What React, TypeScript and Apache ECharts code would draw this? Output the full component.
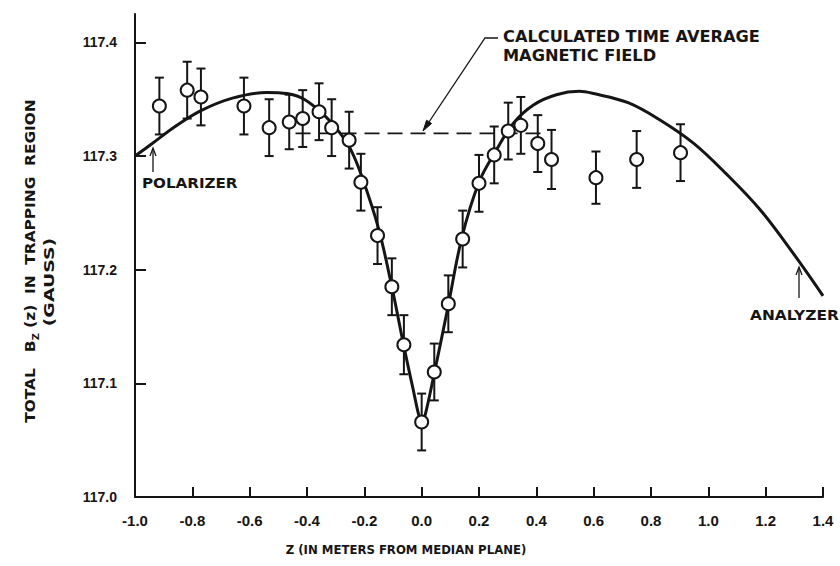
import React, { useEffect, useRef } from "react";
import * as echarts from "echarts";

// Axis ticks
const zTicks = [-1.0, -0.8, -0.6, -0.4, -0.2, 0.0, 0.2, 0.4, 0.6, 0.8, 1.0, 1.2, 1.4];
const bTicks = [117.0, 117.1, 117.2, 117.3, 117.4];

// Calculated field along the axis (solid curve)
const curveZ = [
  -1.0, -0.94, -0.86, -0.77, -0.66, -0.54, -0.47, -0.41, -0.34, -0.29, -0.25, -0.21,
  -0.15, -0.1, -0.06, -0.03, -0.01, 0.0, 0.01, 0.04, 0.09, 0.14, 0.2, 0.26, 0.32, 0.39,
  0.47, 0.55, 0.6, 0.72, 0.83, 0.95, 1.06, 1.18, 1.3, 1.4,
];
const curveB = [
  117.3, 117.311, 117.326, 117.34, 117.351, 117.356, 117.355, 117.35, 117.336, 117.322,
  117.307, 117.283, 117.236, 117.18, 117.13, 117.095, 117.072, 117.066, 117.07, 117.104,
  117.165, 117.228, 117.277, 117.305, 117.329, 117.345, 117.354, 117.357, 117.355,
  117.347, 117.332, 117.311, 117.285, 117.253, 117.213, 117.177,
];

// Measured field with uncertainties
const pointZ = [
  -0.915, -0.818, -0.77, -0.62, -0.532, -0.462, -0.415, -0.358, -0.314, -0.253, -0.212,
  -0.154, -0.104, -0.062, 0.0, 0.044, 0.093, 0.143, 0.2, 0.253, 0.302, 0.346, 0.405,
  0.453, 0.608, 0.75, 0.903,
];
const pointB = [
  117.344, 117.358, 117.352, 117.344, 117.325, 117.33, 117.333, 117.339, 117.325, 117.314,
  117.277, 117.23, 117.185, 117.134, 117.066, 117.11, 117.17, 117.227, 117.276, 117.301,
  117.322, 117.327, 117.311, 117.297, 117.281, 117.297, 117.303,
];
const pointErr = [
  0.025, 0.025, 0.025, 0.025, 0.025, 0.024, 0.025, 0.025, 0.025, 0.025, 0.025, 0.025,
  0.025, 0.026, 0.025, 0.025, 0.025, 0.025, 0.025, 0.025, 0.025, 0.025, 0.025, 0.026,
  0.023, 0.025, 0.025,
];

// Time-averaged field (dashed level)
const avgZ = [-0.44, 0.44];
const avgB = [117.32, 117.32];

const INK = "#151515";
const LETTER = '"DejaVu Sans", "Liberation Sans", sans-serif';
const DIGIT = '"Liberation Sans", Arial, sans-serif';

function arrowHead(tip: number[], from: number[], len: number, half: number) {
  const dx = tip[0] - from[0];
  const dy = tip[1] - from[1];
  const d = Math.hypot(dx, dy);
  const ux = dx / d;
  const uy = dy / d;
  const bx = tip[0] - ux * len;
  const by = tip[1] - uy * len;
  return [
    [tip[0], tip[1]],
    [bx - uy * half, by + ux * half],
    [bx + uy * half, by - ux * half],
  ];
}

// Stencil-style lettering, stretched horizontally by `sx`
function label(text: string, x: number, y: number, size: number, sx: number, align = "left") {
  return {
    type: "text",
    x,
    y,
    scaleX: sx,
    silent: true,
    style: {
      text,
      fill: INK,
      font: `bold ${size}px ${LETTER}`,
      textAlign: align,
      textVerticalAlign: "middle",
    },
  };
}

export default function App() {
  const ref = useRef<HTMLDivElement>(null);

  useEffect(() => {
    if (!ref.current) return;
    const chart = echarts.init(ref.current, undefined, { renderer: "svg" });

    const curve = curveZ.map((z, i) => [z, curveB[i]]);
    const points = pointZ.map((z, i) => [z, pointB[i]]);
    const bars = pointZ.map((z, i) => [z, pointB[i], pointErr[i]]);
    const avg = avgZ.map((z, i) => [z, avgB[i]]);

    const calcTip = [423, 131];
    const calcKnee = [485, 38];

    chart.setOption({
      animation: false,
      backgroundColor: "#ffffff",
      grid: { left: 135, right: 17, top: 14, bottom: 69 },
      xAxis: {
        type: "value",
        min: -1.0,
        max: 1.4,
        axisLine: { show: true, onZero: false, lineStyle: { color: INK, width: 2 } },
        axisTick: {
          show: true,
          inside: true,
          length: 10,
          customValues: zTicks,
          lineStyle: { color: INK, width: 2 },
        },
        axisLabel: {
          customValues: zTicks,
          margin: 16,
          color: INK,
          fontFamily: DIGIT,
          fontWeight: "bold",
          fontSize: 15,
          formatter: (v: number) => v.toFixed(1),
        },
        splitLine: { show: false },
      },
      yAxis: {
        type: "value",
        min: 117.0,
        max: 117.425,
        axisLine: { show: true, onZero: false, lineStyle: { color: INK, width: 2 } },
        axisTick: {
          show: true,
          inside: true,
          length: 11,
          customValues: bTicks,
          lineStyle: { color: INK, width: 2 },
        },
        axisLabel: {
          customValues: bTicks,
          margin: 18,
          color: INK,
          fontFamily: DIGIT,
          fontWeight: "bold",
          fontSize: 14,
          formatter: (v: number) => v.toFixed(1),
        },
        splitLine: { show: false },
      },
      series: [
        {
          type: "line",
          data: curve,
          smooth: 0.35,
          showSymbol: false,
          z: 2,
          lineStyle: { color: INK, width: 3 },
        },
        {
          type: "line",
          data: avg,
          showSymbol: false,
          z: 1,
          lineStyle: { color: INK, width: 1.6, type: [15, 8] },
        },
        {
          type: "custom",
          data: bars,
          z: 3,
          renderItem: (params: any, api: any) => {
            const z = api.value(0);
            const b = api.value(1);
            const e = api.value(2);
            const top = api.coord([z, b + e]);
            const bot = api.coord([z, b - e]);
            const cap = 4.5;
            const st = { stroke: INK, lineWidth: 2 };
            return {
              type: "group",
              children: [
                { type: "line", shape: { x1: top[0], y1: top[1], x2: bot[0], y2: bot[1] }, style: st },
                { type: "line", shape: { x1: top[0] - cap, y1: top[1], x2: top[0] + cap, y2: top[1] }, style: st },
                { type: "line", shape: { x1: bot[0] - cap, y1: bot[1], x2: bot[0] + cap, y2: bot[1] }, style: st },
              ],
            };
          },
        },
        {
          type: "scatter",
          data: points,
          symbol: "circle",
          symbolSize: 13,
          z: 4,
          itemStyle: { color: "#ffffff", borderColor: INK, borderWidth: 2, opacity: 1 },
        },
      ],
      graphic: [
        // axis titles
        {
          type: "text",
          x: 30,
          y: 261,
          rotation: Math.PI / 2,
          scaleX: 1.1,
          silent: true,
          style: {
            text: "TOTAL   B{sub|Z} (z)  IN  TRAPPING  REGION",
            fill: INK,
            font: `bold 14px ${LETTER}`,
            textAlign: "center",
            textVerticalAlign: "middle",
            rich: {
              sub: {
                fontSize: 9,
                fontWeight: "bold",
                fontFamily: LETTER,
                fill: INK,
                padding: [12, 0, 0, 0],
              },
            },
          },
        },
        {
          type: "text",
          x: 49,
          y: 282,
          rotation: Math.PI / 2,
          scaleX: 1.35,
          silent: true,
          style: {
            text: "(GAUSS)",
            fill: INK,
            font: `bold 14px ${LETTER}`,
            textAlign: "center",
            textVerticalAlign: "middle",
          },
        },
        label("Z (IN METERS FROM MEDIAN PLANE)", 406, 550, 13, 0.9, "center"),
        // time-average annotation
        label("CALCULATED TIME AVERAGE", 503, 37, 15, 1.08),
        label("MAGNETIC FIELD", 503, 56, 15, 1.08),
        {
          type: "polyline",
          silent: true,
          shape: { points: [[498, 38], calcKnee, [calcTip[0] + 4, calcTip[1] - 6]] },
          style: { stroke: INK, lineWidth: 1.3, fill: "none" },
        },
        {
          type: "polygon",
          silent: true,
          shape: { points: arrowHead(calcTip, calcKnee, 11, 3) },
          style: { fill: INK, stroke: INK, lineWidth: 1 },
        },
        // polarizer marker
        label("POLARIZER", 142, 183, 14, 1.08),
        {
          type: "line",
          silent: true,
          shape: { x1: 153, y1: 172, x2: 153, y2: 149 },
          style: { stroke: INK, lineWidth: 1.3 },
        },
        {
          type: "polyline",
          silent: true,
          shape: { points: [[150, 156], [153, 148], [156, 156]] },
          style: { stroke: INK, lineWidth: 1.3, fill: "none" },
        },
        // analyzer marker
        label("ANALYZER", 750, 315, 14, 1.1),
        {
          type: "line",
          silent: true,
          shape: { x1: 799, y1: 298, x2: 799, y2: 268 },
          style: { stroke: INK, lineWidth: 1.3 },
        },
        {
          type: "polyline",
          silent: true,
          shape: { points: [[796, 275], [799, 267], [802, 275]] },
          style: { stroke: INK, lineWidth: 1.3, fill: "none" },
        },
      ],
    });

    return () => chart.dispose();
  }, []);

  return <div ref={ref} style={{ width: 840, height: 566, position: "absolute", left: 0, top: 0 }} />;
}
